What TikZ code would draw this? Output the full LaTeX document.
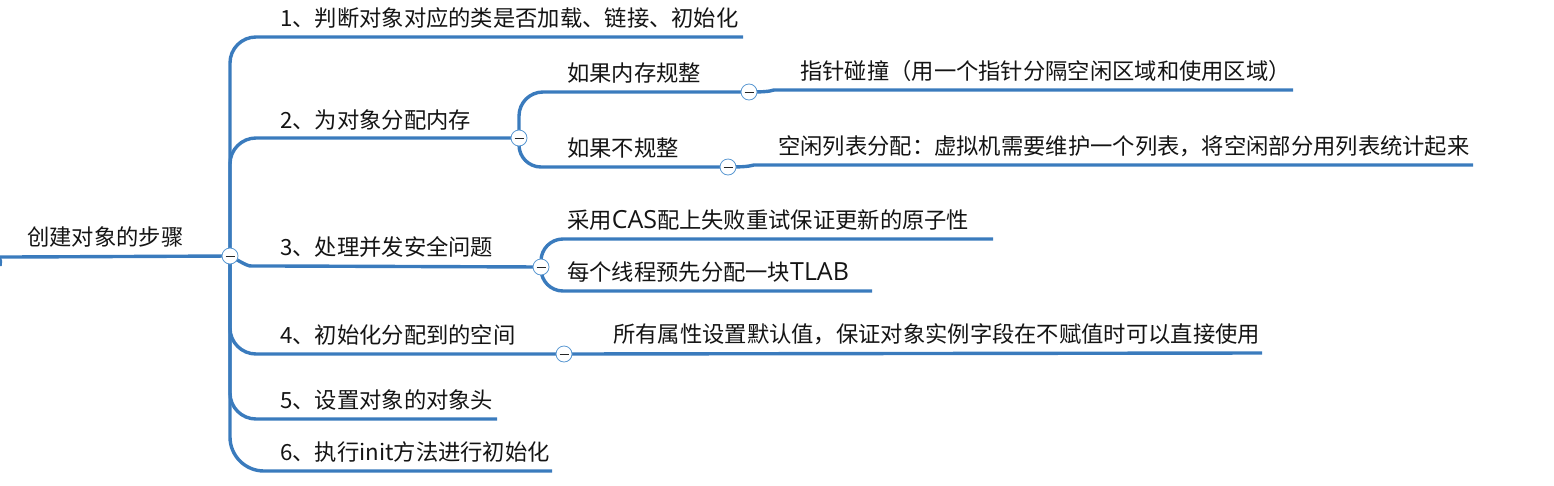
\documentclass[tikz,border=0pt]{standalone}
\usepackage{fontspec}
\setmainfont{Noto Sans CJK SC}
\newfontfamily\latinfont[Scale=1.12]{Open Sans}
\definecolor{mapblue}{HTML}{3A7BBD}
\definecolor{hubblue}{HTML}{5A98D2}
\tikzset{
  branch/.style={draw=mapblue, line width=3.4pt, rounded corners=26},
  topic/.style={anchor=base west, inner sep=0pt, font=\fontsize{22.3}{26}\selectfont, text=black!92},
  hub/.style={circle, draw=hubblue, line width=0.8pt, fill=white, minimum size=16pt, inner sep=0pt,
    path picture={\draw[line width=0.9pt, black!85]
      ([xshift=-4.5pt]path picture bounding box.center) -- ([xshift=4.5pt]path picture bounding box.center);}}
}
\begin{document}
\begin{tikzpicture}[x=1pt,y=-1pt]
  \useasboundingbox (0,0) rectangle (1554,485);
  \coordinate (rs) at (0,266);
  \coordinate (h0) at (230,256);
  \coordinate (h2) at (519,138);
  \coordinate (h3) at (541,267);
  \coordinate (h4) at (564,354);
  \coordinate (h21) at (749,92);
  \coordinate (h22) at (728,167);
  \coordinate (b1e) at (743,37);
  \coordinate (b5e) at (497,419);
  \coordinate (b6e) at (552,471);
  \coordinate (g21e) at (1293,90);
  \coordinate (g22e) at (1473,165);
  \coordinate (c31e) at (993,239);
  \coordinate (c32e) at (872,291);
  \coordinate (c41e) at (1262,353);

  \node[topic] (root) at (27,245) {创建对象的步骤};
  \node[topic] (b1) at (280,26) {1、判断对象对应的类是否加载、链接、初始化};
  \node[topic] (b2) at (280,128) {2、为对象分配内存};
  \node[topic] (b3) at (280,255) {3、处理并发安全问题};
  \node[topic] (b4) at (280,343) {4、初始化分配到的空间};
  \node[topic] (b5) at (280,408) {5、设置对象的对象头};
  \node[topic] (b6) at (280,460) {6、执行init方法进行初始化};
  \node[topic] (c21) at (567,81) {如果内存规整};
  \node[topic] (c22) at (567,156) {如果不规整};
  \node[topic] (g21) at (800,79) {指针碰撞（用一个指针分隔空闲区域和使用区域）};
  \node[topic] (g22) at (778,154) {空闲列表分配：虚拟机需要维护一个列表，将空闲部分用列表统计起来};
  \node[topic] (c31) at (567,228) {采用{\latinfont CAS}配上失败重试保证更新的原子性};
  \node[topic] (c32) at (567,280) {每个线程预先分配一块{\latinfont TLAB}};
  \node[topic] (c41) at (613,342) {所有属性设置默认值，保证对象实例字段在不赋值时可以直接使用};

  \draw[branch] (rs) .. controls (1,257) .. (14,257) -- (h0);
  \draw[branch] (h0) |- (b1e);
  \draw[branch] (h0) |- (h2);
  \draw[branch] (h0) .. controls (248,266) .. (278,266) -- (h3);
  \draw[branch] (h0) |- (h4);
  \draw[branch] (h0) |- (b5e);
  \draw[branch, rounded corners=34] (h0) |- (b6e);
  \draw[branch, rounded corners=24] (h2) |- (h21);
  \draw[branch, rounded corners=22] (h2) |- (h22);
  \draw[branch] (h21) .. controls (775,92) and (770,90) .. (800,90) -- (g21e);
  \draw[branch] (h22) .. controls (754,167) and (750,165) .. (780,165) -- (g22e);
  \draw[branch, rounded corners=22] (h3) |- (c31e);
  \draw[branch, rounded corners=22] (h3) |- (c32e);
  \draw[branch] (h4) -- (c41e);

  \foreach \h in {h0,h2,h3,h4,h21,h22}
    \node[hub] at (\h) {};
\end{tikzpicture}
\end{document}
